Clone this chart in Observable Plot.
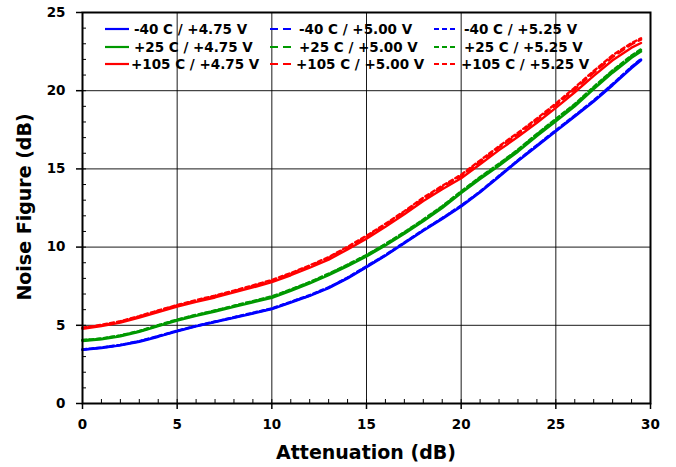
<!DOCTYPE html>
<html><head><meta charset="utf-8">
<script src="https://cdn.jsdelivr.net/npm/d3@7"></script>
<script src="https://cdn.jsdelivr.net/npm/@observablehq/plot@0.6"></script>
<style>
body{margin:0;background:#fff;}
#wrap{position:relative;width:676px;height:467px;font-family:"DejaVu Sans",Verdana,sans-serif;font-weight:bold;color:#000;}
.title{position:absolute;font-size:19px;font-weight:bold;white-space:nowrap;line-height:1;}
.item{position:absolute;font-size:13.5px;font-weight:bold;white-space:nowrap;line-height:16px;}
.sw{position:absolute;}
</style></head><body><div id="wrap"></div>
<script>
// Attenuation setting (dB)
const atten = [0,1,2,3,4,5,6,7,8,9,10,11,12,13,14,15,16,17,18,19,20,21,22,23,24,25,26,27,28,29,29.5];
const temps = ["-40 C", "+25 C", "+105 C"];
const volts = ["+4.75 V", "+5.00 V", "+5.25 V"];
const colors = ["#0000ff", "#009900", "#ff0000"];
const xTicks = [0,5,10,15,20,25,30];
const yTicks = [0,5,10,15,20,25];
const xMinor = d3.range(0, 31);
const yMinor = d3.range(0, 26);
const xTitle = "Attenuation (dB)";
const yTitle = "Noise Figure (dB)";

// Noise figure (dB), -40 C
const nf_m40_475 = [3.43,3.55,3.72,3.95,4.27,4.62,4.93,5.2,5.48,5.75,6.03,6.45,6.88,7.38,8.0,8.72,9.45,10.25,11.05,11.8,12.6,13.5,14.5,15.5,16.45,17.4,18.35,19.3,20.35,21.45,21.95];
const nf_m40_500 = [3.45,3.57,3.74,3.98,4.3,4.64,4.95,5.23,5.5,5.78,6.06,6.48,6.9,7.41,8.03,8.75,9.48,10.28,11.08,11.84,12.64,13.54,14.53,15.54,16.49,17.44,18.39,19.35,20.4,21.5,22.0];
const nf_m40_525 = [3.46,3.58,3.75,3.99,4.31,4.66,4.97,5.24,5.52,5.8,6.08,6.5,6.93,7.43,8.05,8.78,9.5,10.3,11.1,11.86,12.66,13.56,14.56,15.56,16.52,17.47,18.42,19.38,20.43,21.53,22.03];
// +25 C
const nf_p25_475 = [4.0,4.1,4.3,4.58,4.95,5.3,5.6,5.88,6.18,6.47,6.76,7.2,7.68,8.2,8.78,9.4,10.1,10.85,11.65,12.5,13.45,14.35,15.2,16.1,17.1,18.05,19.0,20.1,21.15,22.1,22.5];
const nf_p25_500 = [4.04,4.14,4.34,4.62,4.99,5.35,5.65,5.93,6.23,6.52,6.82,7.26,7.74,8.26,8.85,9.47,10.17,10.93,11.73,12.58,13.53,14.44,15.29,16.2,17.2,18.15,19.1,20.2,21.26,22.2,22.6];
const nf_p25_525 = [4.06,4.16,4.36,4.64,5.01,5.37,5.67,5.95,6.25,6.55,6.85,7.29,7.77,8.3,8.88,9.5,10.2,10.96,11.76,12.62,13.57,14.48,15.33,16.24,17.24,18.2,19.15,20.25,21.3,22.25,22.65];
// +105 C
const nf_p105_475 = [4.77,4.95,5.17,5.5,5.85,6.2,6.5,6.78,7.1,7.42,7.76,8.2,8.68,9.2,9.85,10.53,11.3,12.1,12.95,13.7,14.4,15.3,16.2,17.05,17.95,18.9,19.9,20.95,21.95,22.75,23.05];
const nf_p105_500 = [4.82,5.0,5.23,5.56,5.92,6.27,6.57,6.86,7.18,7.5,7.85,8.29,8.78,9.3,9.96,10.65,11.42,12.23,13.08,13.84,14.55,15.45,16.36,17.22,18.12,19.08,20.09,21.15,22.15,22.97,23.27];
const nf_p105_525 = [4.84,5.03,5.26,5.59,5.95,6.3,6.61,6.9,7.22,7.55,7.9,8.34,8.83,9.36,10.02,10.72,11.49,12.3,13.16,13.92,14.63,15.54,16.45,17.31,18.22,19.18,20.2,21.26,22.27,23.05,23.35];

const series = [
  [nf_m40_475, nf_m40_500, nf_m40_525],
  [nf_p25_475, nf_p25_500, nf_p25_525],
  [nf_p105_475, nf_p105_500, nf_p105_525]
];
const rows = [];
temps.forEach((t, ti) => volts.forEach((v, vi) => {
  series[ti][vi].forEach((y, i) => rows.push({x: atten[i], y, temp: t, volt: v}));
}));
const dashes = [null, "7,5", "4,3"];

const lineMarks = volts.map((v, vi) => Plot.line(rows.filter(r => r.volt === v), {
  x: "x", y: "y", z: "temp", stroke: "temp", strokeWidth: 2.4,
  strokeDasharray: dashes[vi] || undefined, strokeLinejoin: "round"
}));

const chart = Plot.plot({
  width: 676, height: 467,
  marginLeft: 82, marginRight: 26, marginTop: 12, marginBottom: 64,
  style: {fontFamily: '"DejaVu Sans", Verdana, sans-serif', fontWeight: "bold", fontSize: "13px", color: "#000", background: "#fff"},
  x: {domain: [0, 30]},
  y: {domain: [0, 25]},
  color: {domain: temps, range: colors},
  marks: [
    Plot.gridX(xTicks, {stroke: "#000", strokeOpacity: 0.9, strokeWidth: 1}),
    Plot.gridY(yTicks, {stroke: "#000", strokeOpacity: 0.9, strokeWidth: 1}),
    Plot.axisX(xMinor, {tickSize: -4, tickFormat: () => "", label: null, strokeWidth: 1}),
    Plot.axisY(yMinor, {tickSize: -4, tickFormat: () => "", label: null, strokeWidth: 1}),
    Plot.axisX(xTicks, {tickSize: 6, tickPadding: 10, fontSize: 13.5, label: null, strokeWidth: 1.5}),
    Plot.axisY(yTicks, {tickSize: 6, tickPadding: 11, fontSize: 13.5, label: null, strokeWidth: 1.5}),
    ...lineMarks,
    Plot.frame({stroke: "#000", strokeWidth: 2})
  ]
});

const wrap = document.getElementById("wrap");
wrap.appendChild(chart);

// axis titles
const xt = document.createElement("div");
xt.className = "title"; xt.textContent = xTitle;
xt.style.left = "366px"; xt.style.top = "452px"; xt.style.transform = "translate(-50%,-50%)";
wrap.appendChild(xt);
const yt = document.createElement("div");
yt.className = "title"; yt.textContent = yTitle;
yt.style.left = "24px"; yt.style.top = "207px"; yt.style.transform = "translate(-50%,-50%) rotate(-90deg)";
wrap.appendChild(yt);

// legend (3 columns by voltage, 3 rows by temperature)
const colSw = [105, 270, 434], colSwW = [24, 22, 22], colTx = [134, 299, 464];
const rowY = [29, 46.5, 64];
volts.forEach((v, vi) => temps.forEach((t, ti) => {
  const ns = "http://www.w3.org/2000/svg";
  const s = document.createElementNS(ns, "svg");
  s.setAttribute("class", "sw");
  s.setAttribute("width", colSwW[vi]); s.setAttribute("height", 4);
  s.style.left = colSw[vi] + "px"; s.style.top = (rowY[ti] - 2) + "px";
  const l = document.createElementNS(ns, "line");
  l.setAttribute("x1", 0); l.setAttribute("x2", colSwW[vi]);
  l.setAttribute("y1", 2); l.setAttribute("y2", 2);
  l.setAttribute("stroke", colors[ti]); l.setAttribute("stroke-width", 2.2);
  if (dashes[vi]) l.setAttribute("stroke-dasharray", vi === 1 ? "8,5" : "5,3");
  s.appendChild(l);
  wrap.appendChild(s);
  const d = document.createElement("div");
  d.className = "item";
  d.textContent = t + " / " + v;
  d.style.left = (colTx[vi] - (ti === 2 ? 3 : 0)) + "px";
  d.style.top = (rowY[ti] - 8) + "px";
  wrap.appendChild(d);
}));
</script>
</body></html>
